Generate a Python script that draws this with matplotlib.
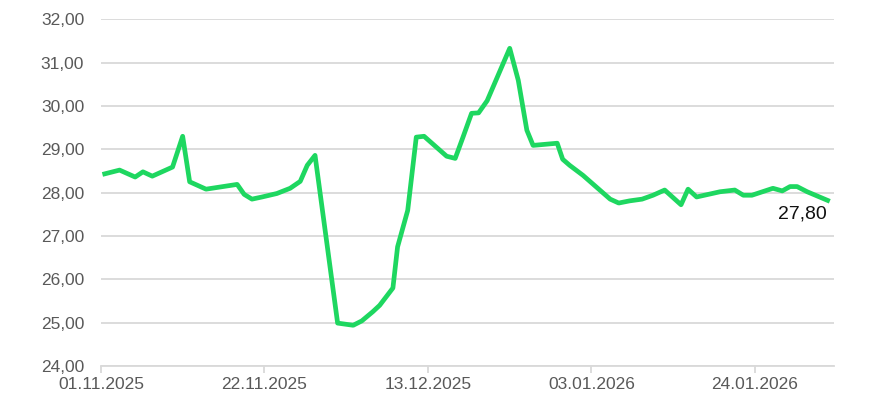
import numpy as np
import pandas as pd
import matplotlib
matplotlib.use("Agg")
import matplotlib.pyplot as plt
import matplotlib.dates as mdates
from matplotlib.ticker import FuncFormatter, MultipleLocator

# Price series (days after 01.11.2025, value)
start = pd.Timestamp("2025-11-01")
day_offsets = [0.2, 2.4, 4.4, 5.4, 6.6, 9.2, 10.5, 11.4, 13.5, 17.5, 18.4, 19.4,
               20.7, 22.6, 24.3, 25.6, 26.5, 27.5, 30.4, 32.4, 33.5, 34.9, 35.8,
               37.5, 38.1, 39.4, 40.5, 41.5, 44.4, 45.5, 46.5, 47.6, 48.5, 49.6,
               52.5, 53.6, 54.7, 55.5, 58.6, 59.3, 60.2, 61.9, 65.4, 66.5, 67.9,
               69.5, 70.9, 72.4, 74.5, 75.4, 76.5, 79.5, 81.4, 82.5, 83.6, 86.3,
               87.5, 88.5, 89.4, 90.7, 93.6]
prices = [28.42, 28.52, 28.36, 28.48, 28.38, 28.59, 29.30, 28.25, 28.08, 28.19,
          27.96, 27.85, 27.90, 27.98, 28.10, 28.26, 28.63, 28.86, 24.99, 24.94,
          25.04, 25.25, 25.40, 25.80, 26.75, 27.59, 29.28, 29.30, 28.84, 28.79,
          29.28, 29.83, 29.84, 30.12, 31.33, 30.59, 29.44, 29.09, 29.14, 28.77,
          28.63, 28.40, 27.85, 27.76, 27.81, 27.85, 27.94, 28.06, 27.72, 28.08,
          27.90, 28.02, 28.06, 27.94, 27.94, 28.10, 28.04, 28.14, 28.14, 28.02,
          27.80]
dates = [start + pd.Timedelta(days=d) for d in day_offsets]
tick_dates = pd.to_datetime(["2025-11-01", "2025-11-22", "2025-12-13",
                             "2026-01-03", "2026-01-24"])

plt.rcParams['font.family'] = ['Liberation Sans', 'DejaVu Sans']

fig = plt.figure(figsize=(8.85, 4.07), dpi=100)
ax = fig.add_axes([0.114, 0.1007, 0.828, 0.852])

ax.plot(dates, prices, color='#1ed760', linewidth=3.4, solid_joinstyle='round',
        solid_capstyle='butt', zorder=3)

ax.set_ylim(24, 32)
ax.set_xlim(start, start + pd.Timedelta(days=94.1))
ax.yaxis.set_major_locator(MultipleLocator(1))
ax.yaxis.set_major_formatter(FuncFormatter(lambda v, p: f"{v:.2f}".replace('.', ',')))
ax.set_xticks(tick_dates)
ax.xaxis.set_major_formatter(mdates.DateFormatter('%d.%m.%Y'))

ax.grid(axis='y', color='#d9d9d9', linewidth=1.3)
ax.set_axisbelow(True)
for side in ['top', 'right', 'left']:
    ax.spines[side].set_visible(False)
ax.spines['bottom'].set_color('#d9d9d9')
ax.spines['bottom'].set_linewidth(1.3)

ax.tick_params(axis='y', length=0, pad=12, labelsize=12.5, labelcolor='#595959')
ax.tick_params(axis='x', length=5, width=1.3, color='#d9d9d9', pad=3,
               labelsize=12.5, labelcolor='#595959')

# last value label
ax.annotate(f"{prices[-1]:.2f}".replace('.', ','), xy=(dates[-1], prices[-1]),
            xytext=(-2, -3), textcoords='offset points', ha='right', va='top',
            fontsize=14, color='#111111')

fig.savefig('out.png', dpi=100)
